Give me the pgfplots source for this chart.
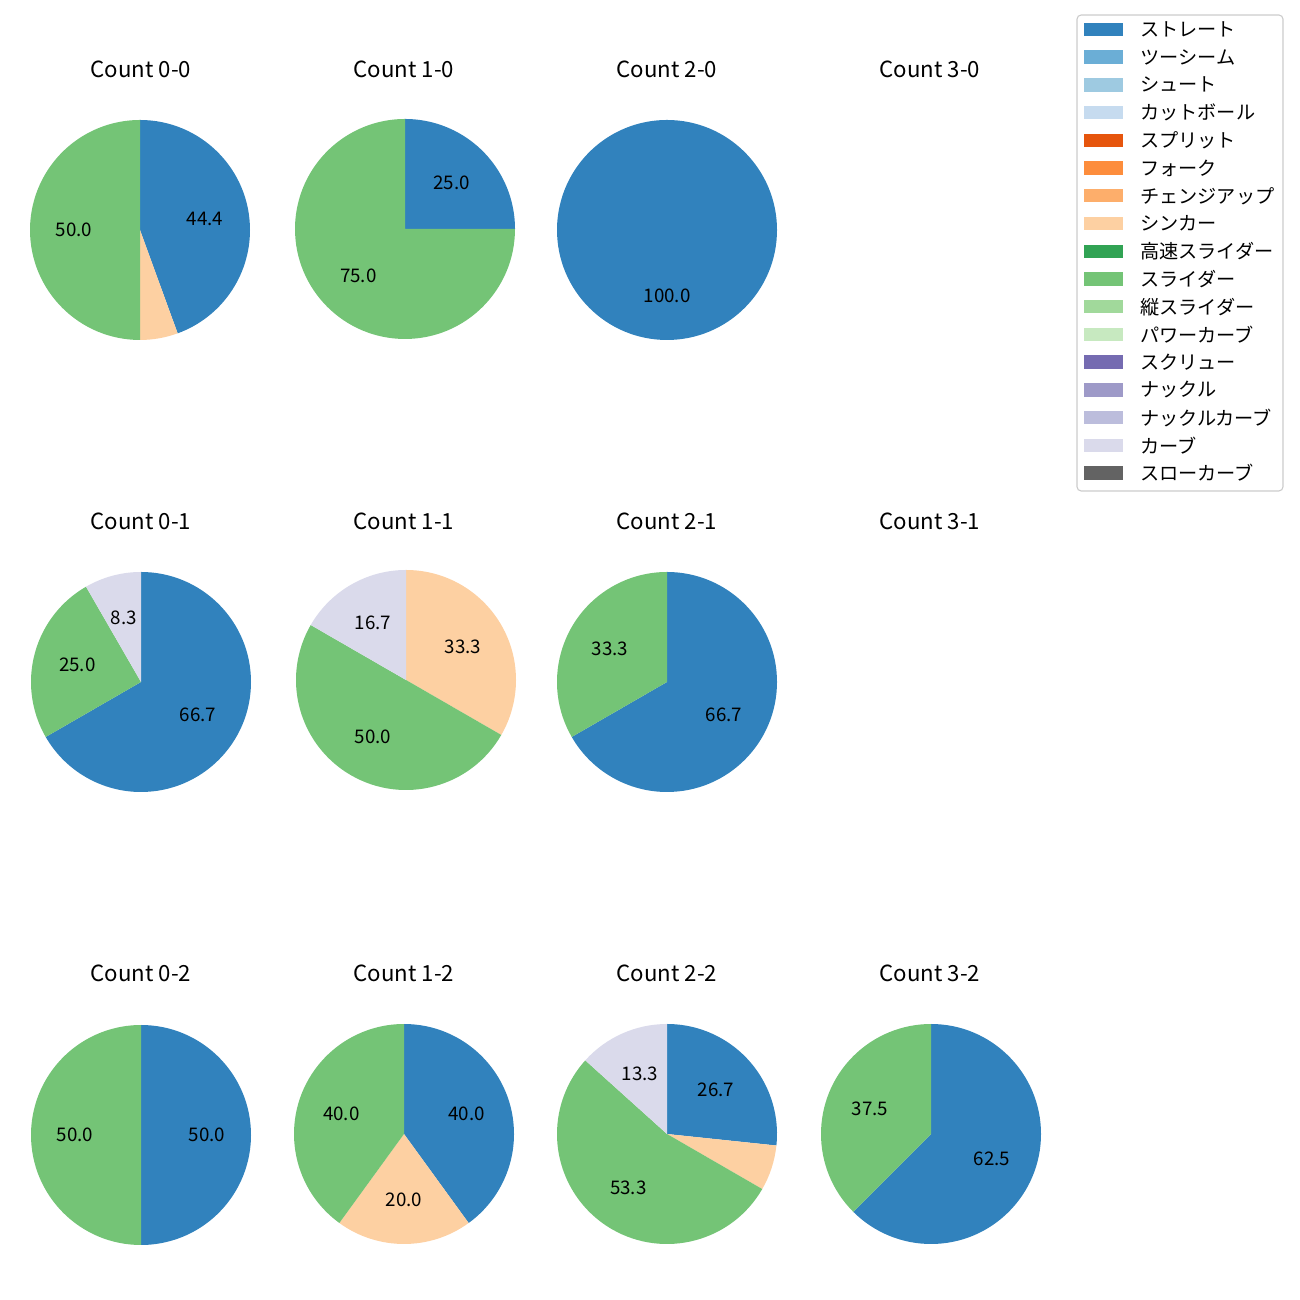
\documentclass[border=0pt]{standalone}
\usepackage{pgfplots}
\pgfplotsset{compat=1.18}
\usepackage{fontspec}
\setmainfont{Noto Sans CJK JP}
\setsansfont{Noto Sans CJK JP}

\definecolor{c1}{HTML}{3182BD}
\definecolor{c2}{HTML}{6BAED6}
\definecolor{c3}{HTML}{9ECAE1}
\definecolor{c4}{HTML}{C6DBEF}
\definecolor{c5}{HTML}{E6550D}
\definecolor{c6}{HTML}{FD8D3C}
\definecolor{c7}{HTML}{FDAE6B}
\definecolor{c8}{HTML}{FDD0A2}
\definecolor{c9}{HTML}{31A354}
\definecolor{c10}{HTML}{74C476}
\definecolor{c11}{HTML}{A1D99B}
\definecolor{c12}{HTML}{C7E9C0}
\definecolor{c13}{HTML}{756BB1}
\definecolor{c14}{HTML}{9E9AC8}
\definecolor{c15}{HTML}{BCBDDC}
\definecolor{c16}{HTML}{DADAEB}
\definecolor{c17}{HTML}{636363}

\pgfplotsset{piestyle/.style={hide axis, scale only axis, width=158.4pt, height=158.4pt,
  xmin=-1,xmax=1,ymin=-1,ymax=1, anchor=center, clip=false}}

% place an axis at pixel coordinates (x from left, y from top)
\newcommand{\pxat}[2]{at={({#1*0.72pt},{(1300-#2)*0.72pt})}}

% values in percent, drawn clockwise from 12 o'clock
\newcommand{\drawpie}[1]{%
 \pgfplotsextra{%
  \gdef\cumang{90}%
  \foreach \v/\c in {#1} {%
    \pgfmathsetmacro\aS{\cumang}%
    \pgfmathsetmacro\aE{\cumang-3.6*\v}%
    \pgfmathsetmacro\aM{(\aS+\aE)/2}%
    \fill[\c] (axis cs:0,0) -- ++(\aS:79.2pt) arc[start angle=\aS, end angle=\aE, radius=79.2pt] -- cycle;%
    \ifdim\v pt>7pt
      \node[font=\fontsize{13.5pt}{16pt}\selectfont, inner sep=0pt] at ([shift={(\aM:47.5pt)}]axis cs:0,0) {\pgfmathprintnumber[fixed,fixed zerofill,precision=1,assume math mode=true]{\v}};%
    \fi
    \global\let\cumang\aE
  }%
 }%
}

\begin{document}
\begin{tikzpicture}[x=0.72pt,y=0.72pt]
\path (0,0) rectangle (1300,1300);

% titles
\begin{scope}[every node/.style={font=\fontsize{16pt}{19pt}\selectfont}]
\node at (141,1231) {Count 0-0};
\node at (404,1231) {Count 1-0};
\node at (667,1231) {Count 2-0};
\node at (930,1231) {Count 3-0};
\node at (141,779) {Count 0-1};
\node at (404,779) {Count 1-1};
\node at (667,779) {Count 2-1};
\node at (930,779) {Count 3-1};
\node at (141,327) {Count 0-2};
\node at (404,327) {Count 1-2};
\node at (667,327) {Count 2-2};
\node at (930,327) {Count 3-2};
\end{scope}

% row 1
\begin{axis}[piestyle, \pxat{140}{230}]
\drawpie{44.44/c1, 5.56/c8, 50/c10}
\end{axis}
\begin{axis}[piestyle, \pxat{405}{229}]
\drawpie{25/c1, 75/c10}
\end{axis}
\begin{axis}[piestyle, \pxat{667}{230}]
\drawpie{100/c1}
\end{axis}

% row 2
\begin{axis}[piestyle, \pxat{141}{682}]
\drawpie{66.67/c1, 25/c10, 8.33/c16}
\end{axis}
\begin{axis}[piestyle, \pxat{406}{680}]
\drawpie{33.33/c8, 50/c10, 16.67/c16}
\end{axis}
\begin{axis}[piestyle, \pxat{667}{682}]
\drawpie{66.67/c1, 33.33/c10}
\end{axis}

% row 3
\begin{axis}[piestyle, \pxat{141}{1135}]
\drawpie{50/c1, 50/c10}
\end{axis}
\begin{axis}[piestyle, \pxat{404}{1134}]
\drawpie{40/c1, 20/c8, 40/c10}
\end{axis}
\begin{axis}[piestyle, \pxat{667}{1134}]
\drawpie{26.67/c1, 6.67/c8, 53.33/c10, 13.33/c16}
\end{axis}
\begin{axis}[piestyle, \pxat{931}{1134}]
\drawpie{62.5/c1, 37.5/c10}
\end{axis}

% legend
\draw[draw=black!20, fill=white, rounded corners=3pt, line width=0.8pt] (1077,809) rectangle (1283,1285);
\foreach \c/\t [count=\i from 0] in {c1/ストレート, c2/ツーシーム, c3/シュート, c4/カットボール,
  c5/スプリット, c6/フォーク, c7/チェンジアップ, c8/シンカー, c9/高速スライダー,
  c10/スライダー, c11/縦スライダー, c12/パワーカーブ, c13/スクリュー, c14/ナックル,
  c15/ナックルカーブ, c16/カーブ, c17/スローカーブ} {
  \pgfmathsetmacro\yy{1300-29.4-27.73*\i}
  \fill[\c] (1084,\yy-6.7) rectangle (1123,\yy+6.7);
  \node[anchor=west, inner sep=0pt, font=\fontsize{13.8pt}{16pt}\selectfont] at (1140,\yy) {\t};
}
\end{tikzpicture}
\end{document}
